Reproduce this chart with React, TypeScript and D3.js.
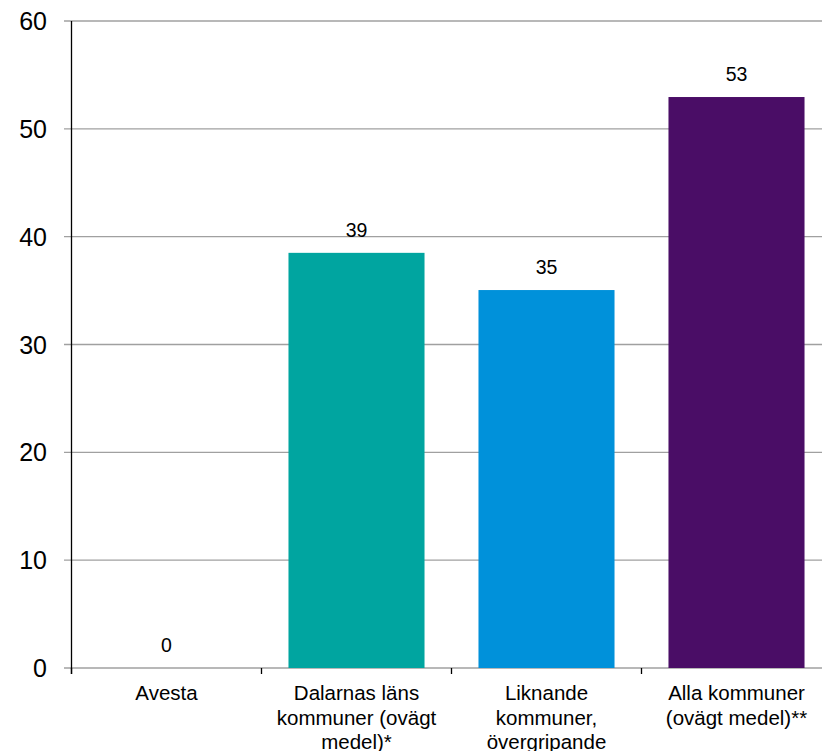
import React from "react";
import * as d3 from "d3";

const categories = [
  ["Avesta"],
  ["Dalarnas läns", "kommuner (ovägt", "medel)*"],
  ["Liknande", "kommuner,", "övergripande"],
  ["Alla kommuner", "(ovägt medel)**"],
];
const values = [0, 38.5, 35.05, 52.95];
const labels = ["0", "39", "35", "53"];
const colors = ["#00A5A0", "#00A5A0", "#0091DA", "#4A0D66"];
const yTicks = [0, 10, 20, 30, 40, 50, 60];

const W = 822;
const H = 751;
const left = 71.5;
const right = 831.5;
const top = 21;
const bottom = 668;

export default function App() {
  const band = d3.scaleBand<number>().domain(d3.range(categories.length)).range([left, right]);
  const barW = band.bandwidth() * 0.716;
  const bx = (i: number) => (band(i) as number) + (band.bandwidth() - barW) / 2;
  const cx = (i: number) => (band(i) as number) + band.bandwidth() / 2;
  const y = d3.scaleLinear().domain([0, 60]).range([bottom, top]);
  const font = "'Liberation Sans', Arial, sans-serif";

  return (
    <svg
      width={W}
      height={H}
      style={{ position: "absolute", left: 0, top: 0, display: "block" }}
      fontFamily={font}
    >
      <rect width={W} height={H} fill="#fff" />
      {yTicks.map((t) => (
        <g key={t}>
          <line x1={64} x2={W} y1={y(t)} y2={y(t)} stroke="#a0a0a0" strokeWidth={1.3} />
          <text x={47} y={y(t)} dy="0.36em" textAnchor="end" fontSize={25} fill="#000">
            {t}
          </text>
        </g>
      ))}
      {values.map((v, i) =>
        v > 0 ? (
          <rect key={i} x={bx(i)} y={y(v)} width={barW} height={y(0) - y(v)} fill={colors[i]} />
        ) : null
      )}
      <line x1={left} x2={left} y1={top} y2={bottom + 6} stroke="#000" strokeWidth={1.3} />
      {d3.range(categories.length + 1).map((i) => {
        const xp = i < categories.length ? (band(i) as number) : right;
        return <line key={i} x1={xp} x2={xp} y1={bottom} y2={bottom + 6} stroke="#000" strokeWidth={1.3} />;
      })}
      {values.map((v, i) => (
        <text key={i} x={cx(i)} y={y(v) - 16} textAnchor="middle" fontSize={19.5} fill="#000">
          {labels[i]}
        </text>
      ))}
      {categories.map((lines, i) => (
        <text key={i} x={cx(i)} y={700} textAnchor="middle" fontSize={20.5} fill="#000">
          {lines.map((l, j) => (
            <tspan key={j} x={cx(i)} dy={j === 0 ? 0 : 24.5}>
              {l}
            </tspan>
          ))}
        </text>
      ))}
    </svg>
  );
}
